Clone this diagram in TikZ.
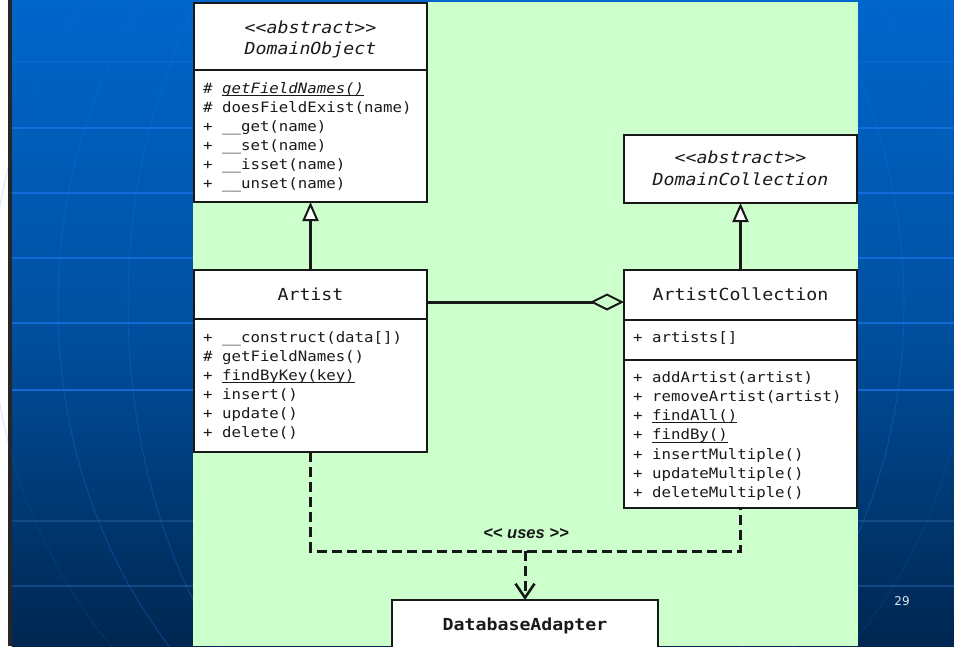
\documentclass[tikz,border=0pt]{standalone}
\usepackage{fontspec}
\usetikzlibrary{arrows.meta}
\newfontfamily\umlfont{DejaVu Sans Mono}[FakeStretch=1.1]
\newfontfamily\labelfont{Liberation Sans}
\newfontfamily\pagefont{DejaVu Sans}
\definecolor{slidetop}{RGB}{0,102,204}
\definecolor{slidemid}{RGB}{0,80,160}
\definecolor{slidebot}{RGB}{0,38,80}
\definecolor{gridline}{RGB}{20,112,222}
\definecolor{gridlow}{RGB}{25,78,140}
\definecolor{panel}{RGB}{204,255,204}
\definecolor{ink}{RGB}{24,24,24}
\definecolor{txt}{RGB}{26,26,26}
\definecolor{pagenum}{RGB}{222,228,236}
% underline at a fixed depth below the baseline
\newcommand{\ulined}[1]{\setbox0\hbox{#1}\rlap{\rule[-2.6pt]{\wd0}{1pt}}\box0}
\begin{document}
\begin{tikzpicture}[x=1pt, y=-1pt,
  classbox/.style={draw=ink, line width=2pt, fill=white, anchor=north west,
    inner sep=0pt, outer sep=0pt},
  member/.style={anchor=base west, inner sep=0pt, text=txt,
    font=\umlfont\fontsize{14.3pt}{19pt}\selectfont},
  title/.style={anchor=base, inner sep=0pt, text=txt,
    font=\umlfont\fontsize{16.6pt}{19pt}\selectfont},
  divider/.style={draw=ink, line width=2pt},
  generalize/.style={draw=ink, line width=3pt,
    -{Triangle[length=19pt, width=16pt, line width=2pt, fill=white]}},
  aggregate/.style={draw=ink, line width=3pt,
    -{Diamond[length=34pt, width=17pt, line width=2pt, fill=panel]}},
  usesline/.style={draw=ink, line width=3pt, dash pattern=on 10pt off 5pt},
  usesarrow/.style={usesline,
    -{Straight Barb[length=14pt, width=19pt, line width=2.6pt]}},
]
\useasboundingbox (0,0) rectangle (954,646);
\clip (0,0) rectangle (954,646);

% slide background
\fill[white] (0,0) rectangle (8,646);
\shade[top color=slidetop, bottom color=slidebot, middle color=slidemid]
  (11.5,0) rectangle (954,646);
\fill[black!85] (8,0) rectangle (11.5,646);
\draw[gridline, line width=1.2pt, opacity=.3] (11.5,62) -- (954,62);
\foreach \yy in {128,193,258,323,390}
  \draw[gridline, line width=1.3pt, opacity=.85] (11.5,\yy) -- (954,\yy);
\foreach \yy in {521,586}
  \draw[gridlow, line width=1.2pt, opacity=.8] (11.5,\yy) -- (954,\yy);
\draw[gridline, line width=1pt, opacity=.35] (481,305) ellipse [x radius=423, y radius=505];
\draw[gridline, line width=1pt, opacity=.35] (481,305) ellipse [x radius=353, y radius=510];
\draw[gridline, line width=1pt, opacity=.16] (481,305) ellipse [x radius=490, y radius=520];
\node[anchor=base, inner sep=0pt, text=pagenum, font=\pagefont\fontsize{12pt}{14pt}\selectfont]
  (slideno) at (902,605) {29};

% diagram panel
\fill[panel] (193,2) rectangle (858,646);

% class boxes
\node[classbox, minimum width=233pt, minimum height=199pt] (domobj) at (194,3) {};
\node[classbox, minimum width=233pt, minimum height=68pt] (domcoll) at (624,135) {};
\node[classbox, minimum width=233pt, minimum height=182pt] (artist) at (194,270) {};
\node[classbox, minimum width=233pt, minimum height=238pt] (artcoll) at (624,270) {};
\node[classbox, minimum width=266pt, minimum height=80pt] (dbad) at (392,600) {};

% compartment dividers
\draw[divider] (domobj.west |- 0,70) -- (domobj.east |- 0,70);
\draw[divider] (artist.west |- 0,319) -- (artist.east |- 0,319);
\draw[divider] (artcoll.west |- 0,320) -- (artcoll.east |- 0,320);
\draw[divider] (artcoll.west |- 0,360) -- (artcoll.east |- 0,360);

% class names
\node[title] (domobj-st) at (310.5,33) {\itshape <\kern0pt<abstract>\kern0pt>};
\node[title] (domobj-nm) at (310.5,54) {\itshape DomainObject};
\node[title] (domcoll-st) at (740.5,163) {\itshape <\kern0pt<abstract>\kern0pt>};
\node[title] (domcoll-nm) at (740.5,185) {\itshape DomainCollection};
\node[title] (artist-nm) at (310.5,300) {Artist};
\node[title] (artcoll-nm) at (740.5,300) {ArtistCollection};
\node[title] (dbad-nm) at (525,630) {\bfseries DatabaseAdapter};

% members
\foreach \t [count=\i] in {
    {\# \ulined{\itshape getFieldNames()}},
    {\# doesFieldExist(name)},
    {+ \_\_get(name)},
    {+ \_\_set(name)},
    {+ \_\_isset(name)},
    {+ \_\_unset(name)}}
  \node[member] (domobj-m\i) at (203,{93+19*(\i-1)}) {\t};
\foreach \t [count=\i] in {
    {+ \_\_construct(data[])},
    {\# getFieldNames()},
    {+ \ulined{findByKey(key)}},
    {+ insert()},
    {+ update()},
    {+ delete()}}
  \node[member] (artist-m\i) at (203,{342+19*(\i-1)}) {\t};
\node[member] (artcoll-a1) at (633,342) {+ artists[]};
\foreach \t [count=\i] in {
    {+ addArtist(artist)},
    {+ removeArtist(artist)},
    {+ \ulined{findAll()}},
    {+ \ulined{findBy()}},
    {+ insertMultiple()},
    {+ updateMultiple()},
    {+ deleteMultiple()}}
  \node[member] (artcoll-m\i) at (633,{382+19.3*(\i-1)}) {\t};

% relations
\draw[generalize] (artist.north) -- (domobj.south);
\draw[generalize] (artcoll.north) -- (domcoll.south);
\draw[aggregate] ([yshift=-32pt]artist.north east) -- ([yshift=-32pt]artcoll.north west);
\coordinate (junc) at (525,551);
\draw[usesline] (artist.south) |- (junc) -| (artcoll.south);
\draw[usesarrow] (junc) -- (dbad.north);
\node[anchor=base, inner sep=0pt, text=ink,
  font=\labelfont\bfseries\itshape\fontsize{16.5pt}{18pt}\selectfont]
  (useslabel) at (526,538) {<\kern0pt< uses >\kern0pt>};
\end{tikzpicture}
\end{document}
